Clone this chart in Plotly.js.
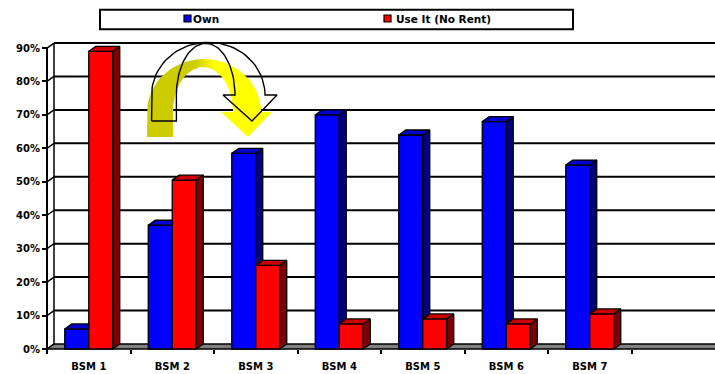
<!DOCTYPE html>
<html>
<head>
<meta charset="utf-8">
<script src="https://cdn.plot.ly/plotly-3.0.1.min.js"></script>
<style>
  html, body { margin: 0; padding: 0; background: #ffffff; }
  #chart { width: 715px; height: 374px; }
</style>
</head>
<body>
<div id="chart"></div>
<script>
// ---- data -------------------------------------------------------------
const categories = ['BSM 1', 'BSM 2', 'BSM 3', 'BSM 4', 'BSM 5', 'BSM 6', 'BSM 7'];
const ownShare   = [6, 37, 58.5, 70, 64, 68, 55];
const useShare   = [89, 50.5, 25, 7.5, 9, 7.5, 10.5];
const seriesNames = ['Own', 'Use It (No Rent)'];
const yTickValues = [0, 10, 20, 30, 40, 50, 60, 70, 80, 90];
const yTickLabels = ['0%', '10%', '20%', '30%', '40%', '50%', '60%', '70%', '80%', '90%'];

// ---- geometry ---------------------------------------------------------
const W = 715, H = 374;
const M = { l: 45, r: 0, t: 38, b: 23 };
const SLOT_PX = 83.5;               // pixels per category slot
const PCT_PX = 3.344;               // pixels per percentage point
const DX = 7 / SLOT_PX;             // 3-D depth, x units
const DY = 5 / PCT_PX;              // 3-D depth, y units
const BAR_W = 24 / SLOT_PX;         // width of one bar
const NSLOTS = 8;                   // seven groups plus an empty slot on the right
const X0 = -0.5 - 2 / SLOT_PX;
const xRange = [X0, X0 + (W - M.l - M.r) / SLOT_PX];
const Y0 = -2 / PCT_PX;
const yRange = [Y0, Y0 + (H - M.t - M.b) / PCT_PX];
const LEFT = -0.5, RIGHT = NSLOTS - 0.5;
const TOP = yTickValues[yTickValues.length - 1];

const COLORS = {
  own: { front: '#0000ff', top: '#0000cc', side: '#000080' },
  use: { front: '#ff0000', top: '#cc0000', side: '#800000' }
};
const FONT = { family: 'DejaVu Sans, Verdana, sans-serif', size: 10, color: '#000000', weight: 'bold' };

const idx = categories.map((_, i) => i);
const boundaries = [];
for (let i = 0; i < NSLOTS; i++) boundaries.push(i - 0.5);

// pixel -> paper helpers for items placed outside the plot area
const plotW = W - M.l - M.r, plotH = H - M.t - M.b;
const px = v => (v - M.l) / plotW;
const py = v => (H - M.b - v) / plotH;

// ---- 3-D faces of the bars (top and right side) -----------------------
// "hiddenBy" is the neighbouring bar standing directly to the right.
function faces(values, offset, hiddenBy) {
  const top = { x: [], y: [] }, side = { x: [], y: [] };
  values.forEach((v, i) => {
    const a = i + offset, b = a + BAR_W;
    const n = hiddenBy ? hiddenBy[i] : null;
    let tx, ty;
    if (hiddenBy && v < n) {
      tx = [a, b, b, a + DX, a];
      ty = [v, v, v + DY, v + DY, v];
    } else {
      tx = [a, b, b + DX, a + DX, a];
      ty = [v, v, v + DY, v + DY, v];
    }
    top.x.push(...tx, null); top.y.push(...ty, null);
    const base = hiddenBy ? n : 0;
    if (v > base) {
      side.x.push(b, b, b + DX, b + DX, b, null);
      side.y.push(base, v, v + DY, base + DY, base, null);
    }
  });
  return { top, side };
}

function poly(p, color) {
  return {
    type: 'scatter', mode: 'lines', x: p.x, y: p.y,
    fill: 'toself', fillcolor: color,
    line: { color: '#000000', width: 1.3 },
    hoverinfo: 'skip', showlegend: false
  };
}

const ownFaces = faces(ownShare, -BAR_W, useShare);
const useFaces = faces(useShare, 0, null);

const traces = [
  {
    type: 'bar', name: seriesNames[0], x: idx, y: ownShare,
    width: BAR_W, offset: -BAR_W,
    marker: { color: COLORS.own.front, line: { color: '#000000', width: 1.3 } },
    showlegend: false
  },
  {
    type: 'bar', name: seriesNames[1], x: idx, y: useShare,
    width: BAR_W, offset: 0,
    marker: { color: COLORS.use.front, line: { color: '#000000', width: 1.3 } },
    showlegend: false
  },
  poly(ownFaces.side, COLORS.own.side),
  poly(ownFaces.top, COLORS.own.top),
  poly(useFaces.side, COLORS.use.side),
  poly(useFaces.top, COLORS.use.top)
];

// ---- curved arrows (drawn on a pixel-space overlay) -------------------
function arc(cx, cy, rx, ry, t0, t1, n) {
  const xs = [], ys = [];
  for (let k = 0; k <= n; k++) {
    const t = t0 + (t1 - t0) * k / n;
    xs.push(cx + rx * Math.cos(t));
    ys.push(cy - ry * Math.sin(t));
  }
  return { xs, ys };
}
function arrowPath(o, inn, tailY, head) {
  const outer = arc(o[0], o[1], o[2], o[3], Math.PI, 0, 48);
  const inner = arc(inn[0], inn[1], inn[2], inn[3], 0, Math.PI, 48);
  const x = [o[0] - o[2], ...outer.xs, ...head.map(p => p[0]), ...inner.xs, inn[0] - inn[2], o[0] - o[2]];
  const y = [tailY, ...outer.ys, ...head.map(p => p[1]), ...inner.ys, tailY, tailY];
  return { x, y };
}
const yellowArrow = arrowPath([204, 112, 57, 53], [203, 112, 30, 45], 137,
  [[272, 112], [248, 137], [221, 112]]);
const whiteArrow = arrowPath([208.3, 95, 56.7, 52.7], [205.7, 95, 29.3, 51.7], 121,
  [[277, 95], [252, 121], [223, 95]]);

traces.push({
  type: 'scatter', mode: 'lines', xaxis: 'x2', yaxis: 'y2',
  x: yellowArrow.x, y: yellowArrow.y, fill: 'toself',
  fillgradient: {
    type: 'horizontal',
    colorscale: [[0, '#cccc00'], [0.38, '#cccc00'], [0.54, '#ffff00'], [1, '#ffff00']]
  },
  line: { width: 0, color: 'rgba(0,0,0,0)' },
  hoverinfo: 'skip', showlegend: false
});
traces.push({
  type: 'scatter', mode: 'lines', xaxis: 'x2', yaxis: 'y2',
  x: whiteArrow.x, y: whiteArrow.y,
  line: { width: 1.4, color: '#000000' },
  hoverinfo: 'skip', showlegend: false
});

// ---- walls, floor and gridlines ---------------------------------------
const shapes = [];
const seg = (x0, y0, x1, y1, w) => ({
  type: 'line', xref: 'x', yref: 'y', x0, y0, x1, y1, layer: 'below',
  line: { color: '#000000', width: w }
});
// floor
shapes.push({
  type: 'path', xref: 'x', yref: 'y', layer: 'below',
  path: `M${LEFT},0 L${RIGHT + 1},0 L${RIGHT + 1 + DX},${DY} L${LEFT + DX},${DY} Z`,
  fillcolor: '#808080', line: { color: '#000000', width: 1.5 }
});
yTickValues.forEach(v => {
  if (v > 0) shapes.push(seg(LEFT + DX, v + DY, RIGHT + 1, v + DY, 2));
  shapes.push(seg(LEFT, v, LEFT + DX, v + DY, 1.5));
});
shapes.push(seg(LEFT + DX, DY, LEFT + DX, TOP + DY, 1.5));
shapes.push(seg(LEFT, 0, LEFT, TOP, 2));

// ---- legend box ---------------------------------------------------------
shapes.push({
  type: 'rect', xref: 'paper', yref: 'paper', layer: 'above',
  x0: px(100), x1: px(573), y0: py(29.3), y1: py(9.7),
  fillcolor: '#ffffff', line: { color: '#000000', width: 2 }
});
const legendMarks = [[184, COLORS.own.front], [384, COLORS.use.front]];
legendMarks.forEach(([x, c]) => shapes.push({
  type: 'rect', xref: 'paper', yref: 'paper', layer: 'above',
  x0: px(x), x1: px(x + 7), y0: py(22), y1: py(15),
  fillcolor: c, line: { color: '#000000', width: 1.2 }
}));
const annotations = [
  { text: seriesNames[0], x: px(191), y: py(18.5) },
  { text: seriesNames[1], x: px(394), y: py(18.5) }
].map(a => Object.assign(a, {
  xref: 'paper', yref: 'paper', xanchor: 'left', yanchor: 'middle',
  showarrow: false, font: Object.assign({}, FONT, { size: 10.5 })
}));

const layout = {
  width: W, height: H,
  margin: M,
  paper_bgcolor: '#ffffff', plot_bgcolor: '#ffffff',
  barmode: 'overlay',
  showlegend: false,
  xaxis: {
    range: xRange, anchor: 'free', position: 2 / plotH,
    tickvals: idx, ticktext: categories, ticks: '',
    ticklabelstandoff: 10,
    minor: { tickvals: boundaries, ticks: 'outside', ticklen: 4, tickwidth: 2, tickcolor: '#000000' },
    showgrid: false, zeroline: false, showline: false,
    tickfont: FONT, fixedrange: true
  },
  yaxis: {
    range: yRange, anchor: 'free', position: 2 / plotW,
    tickvals: yTickValues, ticktext: yTickLabels,
    ticks: 'outside', ticklen: 5, tickwidth: 2, tickcolor: '#000000',
    showgrid: false, zeroline: false, showline: false,
    tickfont: FONT, fixedrange: true
  },
  xaxis2: { overlaying: 'x', range: [M.l, W - M.r], visible: false, fixedrange: true },
  yaxis2: { overlaying: 'y', range: [H - M.b, M.t], visible: false, fixedrange: true },
  shapes, annotations
};

Plotly.newPlot('chart', traces, layout, { staticPlot: true, displayModeBar: false });
</script>
</body>
</html>
